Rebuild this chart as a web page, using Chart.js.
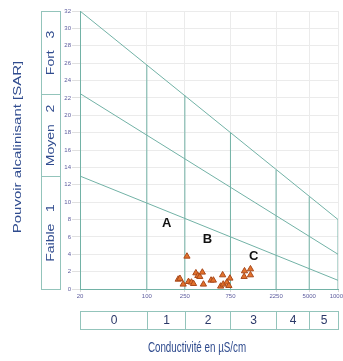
<!DOCTYPE html>
<html>
<head>
<meta charset="utf-8">
<script src="https://cdn.jsdelivr.net/npm/chart.js@4"></script>
<style>
  html, body { margin: 0; padding: 0; background: #fff; }
  canvas { display: block; }
</style>
</head>
<body>
<canvas id="myChart" width="343" height="361"></canvas>
<script>
// conductivity ticks (log axis) and SAR range
const xTicks = [20, 100, 250, 750, 2250, 5000, 10000];
const xEnds = [20, 10000];
// the three diagonal limits, SAR value at 20 and at 10000 µS/cm
const lineTop = [32, 8];
const lineMid = [22.5, 4];
const lineLow = [13, 1];
// verticals go from 0 up to the top diagonal
const vertX = [100, 250, 750, 2250, 5000, 10000];
const vertTop = [25.8, 22.3, 18.0, 13.7, 10.6, 8];
// samples
const sampleCond = [263, 213, 222, 240, 273, 293, 308, 326, 342, 358, 381, 391, 470, 497, 621, 592, 630, 688, 740, 722, 1052, 1042, 1214, 1214];
const sampleSar  = [3.76, 1.11, 1.2, 0.54, 0.84, 0.77, 0.61, 1.84, 1.53, 1.42, 1.92, 0.54, 1.0, 1.0, 1.61, 0.31, 0.54, 0.77, 1.23, 0.38, 2.07, 1.42, 2.30, 1.61];
// zone letters
const zoneNames = ['A', 'B', 'C'];
const zoneCond = [161, 430, 1313];
const zoneSar = [7.6, 5.7, 3.7];
// class boxes
const sarClasses = ['Faible   1', 'Moyen   2', 'Fort   3'];
const sarBounds = [0, 13, 22.5, 32];
const condClasses = ['0', '1', '2', '3', '4', '5'];

const teal = '#72b2a6';
const boxTeal = '#93c4bb';
const labelBlue = '#2f4b8e';
const tickBlue = '#5d5c9e';

const lineSets = [lineTop, lineMid, lineLow].map(function (l) {
  return {
    type: 'line',
    data: [{ x: xEnds[0], y: l[0] }, { x: xEnds[1], y: l[1] }],
    borderColor: teal, borderWidth: 1, pointRadius: 0, order: 3
  };
});
const vertSets = vertX.map(function (x, i) {
  return {
    type: 'line',
    data: [{ x: x, y: 0 }, { x: x, y: vertTop[i] }],
    borderColor: teal, borderWidth: 1, pointRadius: 0, order: 3
  };
});

function vText(ctx, txt, cx, cy, font, color, squeeze) {
  ctx.save();
  ctx.translate(cx, cy);
  ctx.scale(squeeze, 1);
  ctx.rotate(-Math.PI / 2);
  ctx.font = font;
  ctx.fillStyle = color;
  ctx.textAlign = 'center';
  ctx.textBaseline = 'middle';
  ctx.fillText(txt, 0, 0);
  ctx.restore();
}
function hText(ctx, txt, cx, cy, font, color, squeeze) {
  ctx.save();
  ctx.translate(cx, cy);
  ctx.scale(squeeze, 1);
  ctx.font = font;
  ctx.fillStyle = color;
  ctx.textAlign = 'center';
  ctx.textBaseline = 'middle';
  ctx.fillText(txt, 0, 0);
  ctx.restore();
}

const extras = {
  id: 'extras',
  afterDraw: function (chart) {
    const ctx = chart.ctx;
    const xs = chart.scales.x, ys = chart.scales.y;
    ctx.save();
    ctx.strokeStyle = boxTeal;
    ctx.lineWidth = 1;
    // SAR class boxes on the left
    const bx0 = 41.5, bx1 = 60.5;
    for (let i = 0; i < sarClasses.length; i++) {
      const yb = Math.round(ys.getPixelForValue(sarBounds[i])) + 0.5;
      const yt = Math.round(ys.getPixelForValue(sarBounds[i + 1])) + 0.5;
      ctx.strokeRect(bx0, yt, bx1 - bx0, yb - yt);
      vText(ctx, sarClasses[i], (bx0 + bx1) / 2, (yt + yb) / 2, '14px "Liberation Sans", Arial', labelBlue, 0.78);
    }
    vText(ctx, 'Pouvoir alcalinisant [SAR]', 18, (chart.chartArea.top + chart.chartArea.bottom) / 2 - 3,
      '15px "Liberation Sans", Arial', labelBlue, 0.72);

    // conductivity class boxes below
    const by0 = 311.5, by1 = 329.5;
    for (let i = 0; i < condClasses.length; i++) {
      const xl = Math.round(xs.getPixelForValue(xTicks[i])) + 0.5;
      const xr = Math.round(xs.getPixelForValue(xTicks[i + 1])) + 0.5;
      ctx.strokeRect(xl, by0, xr - xl, by1 - by0);
      hText(ctx, condClasses[i], (xl + xr) / 2, (by0 + by1) / 2 + 0.5, '12px "Liberation Sans", Arial', '#2a3868', 1);
    }
    hText(ctx, 'Conductivité en µS/cm', 197, 348, '14px "Liberation Sans", Arial', labelBlue, 0.7);

    // zone letters
    for (let i = 0; i < zoneNames.length; i++) {
      hText(ctx, zoneNames[i], xs.getPixelForValue(zoneCond[i]), ys.getPixelForValue(zoneSar[i]),
        'bold 13px "Liberation Sans", Arial', '#111', 1);
    }
    ctx.restore();
  }
};

new Chart(document.getElementById('myChart'), {
  type: 'scatter',
  data: {
    datasets: lineSets.concat(vertSets).concat([{
      type: 'scatter',
      data: sampleCond.map(function (c, i) { return { x: c, y: sampleSar[i] }; }),
      pointStyle: 'triangle',
      pointRadius: 3.6,
      backgroundColor: '#e3722c',
      borderColor: '#a9491b',
      borderWidth: 1,
      order: 1
    }])
  },
  options: {
    responsive: false,
    animation: false,
    layout: { padding: { left: 35, right: 3, top: 11, bottom: 52 } },
    plugins: { legend: { display: false }, tooltip: { enabled: false } },
    scales: {
      x: {
        type: 'logarithmic',
        min: 20, max: 10000,
        afterBuildTicks: function (scale) {
          scale.ticks = xTicks.map(function (v) { return { value: v }; });
        },
        afterFit: function (scale) {
          scale.height = 20;
          scale.paddingLeft = 0;
          scale.paddingRight = 0;
        },
        ticks: {
          autoSkip: false, maxRotation: 0, padding: 1,
          font: { size: 6, family: 'Arial' }, color: tickBlue,
          callback: function (v) { return String(v); }
        },
        grid: { color: '#ebebeb', tickLength: 3, tickColor: '#d8d8d8' },
        border: { color: teal }
      },
      y: {
        min: 0, max: 32,
        afterFit: function (scale) { scale.width = 45; },
        ticks: {
          stepSize: 2, padding: 1,
          font: { size: 6, family: 'Arial' }, color: tickBlue
        },
        grid: { color: '#ebebeb', tickLength: 8, tickColor: '#e0e0e0' },
        border: { color: teal }
      }
    }
  },
  plugins: [extras]
});
</script>
</body>
</html>
